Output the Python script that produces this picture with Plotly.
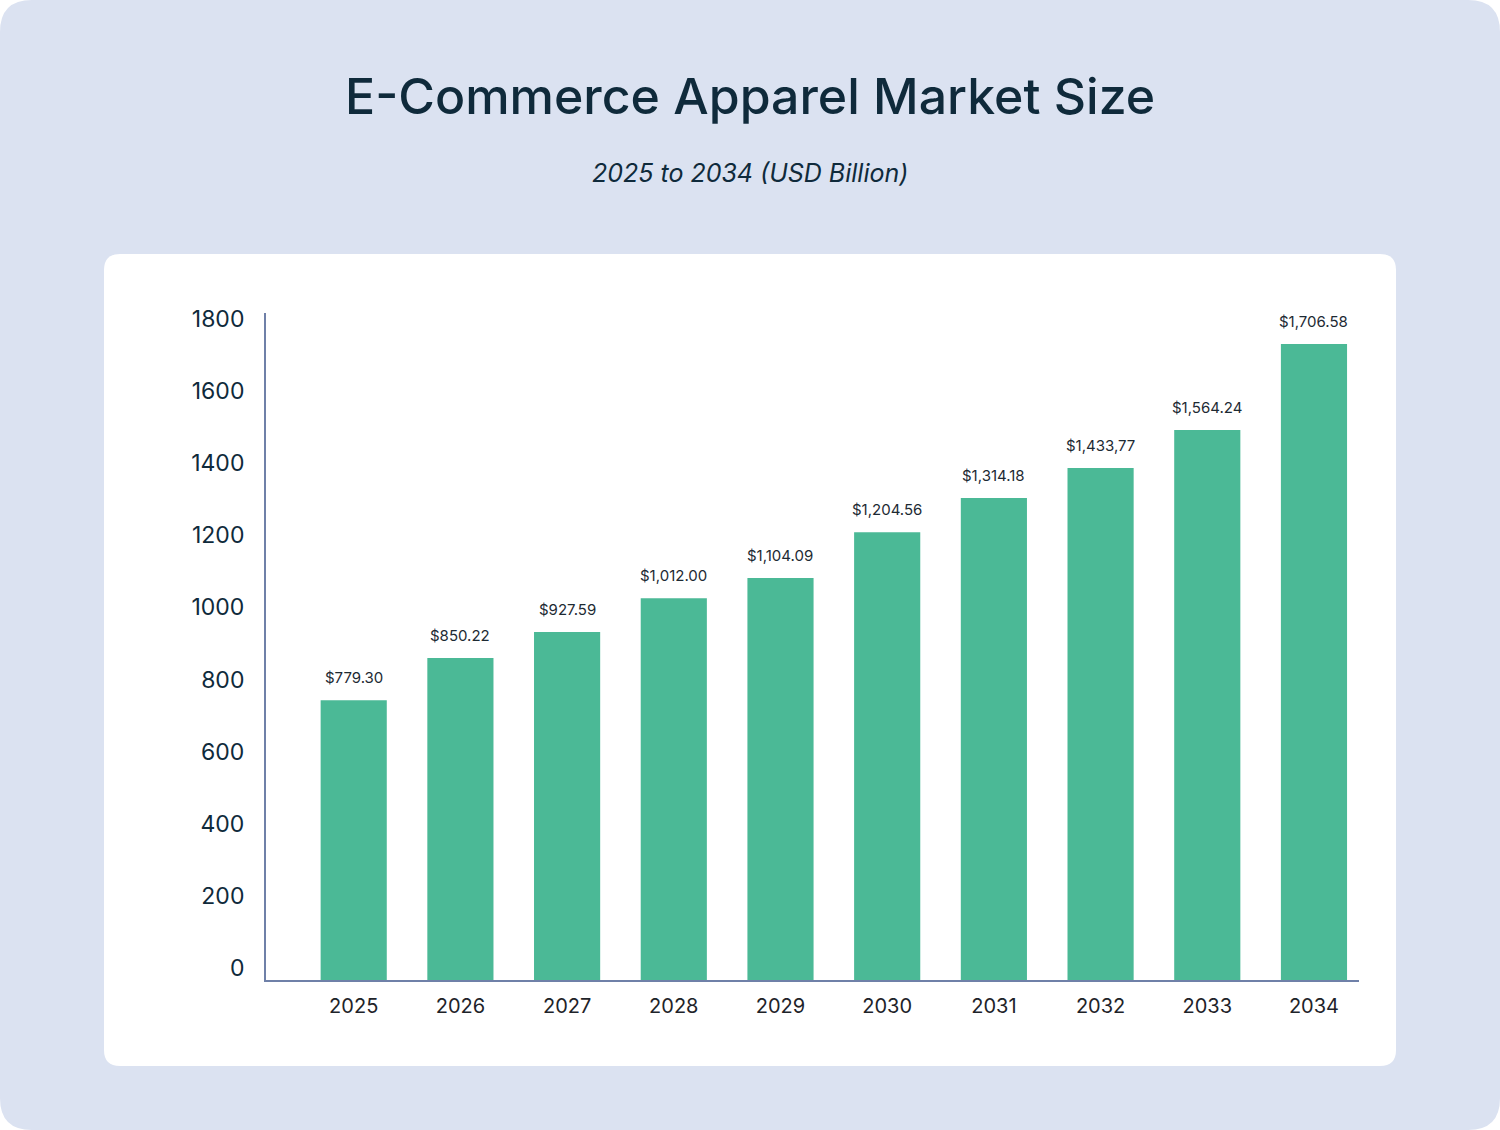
import plotly.graph_objects as go

years = ["2025", "2026", "2027", "2028", "2029", "2030", "2031", "2032", "2033", "2034"]
bar_values = [776, 893, 965, 1059, 1115, 1242, 1337, 1420, 1525, 1764]
value_labels = ["$779.30", "$850.22", "$927.59", "$1,012.00", "$1,104.09",
                "$1,204.56", "$1,314.18", "$1,433,77", "$1,564.24", "$1,706.58"]
y_ticks = [0, 200, 400, 600, 800, 1000, 1200, 1400, 1600, 1800]

W, H = 1500, 1130
L, R, T, B = 266, 141, 313, 150
PW, PH = W - L - R, H - T - B

NAVY = "#0f2a3b"
GREEN = "#4bb996"
AXIS = "#6f80a8"
OUTER = "#dbe2f1"


def px_x(p):
    return (p - L) / PW


def px_y(p):
    return 1 - (p - T) / PH


def rounded_rect(x0, y0, x1, y1, r):
    pts = [
        f"M {px_x(x0 + r)},{px_y(y0)}",
        f"L {px_x(x1 - r)},{px_y(y0)}",
        f"Q {px_x(x1)},{px_y(y0)} {px_x(x1)},{px_y(y0 + r)}",
        f"L {px_x(x1)},{px_y(y1 - r)}",
        f"Q {px_x(x1)},{px_y(y1)} {px_x(x1 - r)},{px_y(y1)}",
        f"L {px_x(x0 + r)},{px_y(y1)}",
        f"Q {px_x(x0)},{px_y(y1)} {px_x(x0)},{px_y(y1 - r)}",
        f"L {px_x(x0)},{px_y(y0 + r)}",
        f"Q {px_x(x0)},{px_y(y0)} {px_x(x0 + r)},{px_y(y0)}",
        "Z",
    ]
    return " ".join(pts)


fig = go.Figure()
fig.add_trace(go.Bar(
    x=years, y=bar_values,
    marker=dict(color=GREEN, line=dict(width=0)),
    hoverinfo="skip",
))

for i, (v, lab) in enumerate(zip(bar_values, value_labels)):
    fig.add_annotation(
        x=i, y=v, xref="x", yref="y", text=lab, showarrow=False, yanchor="bottom",
        yshift=11, font=dict(family="Inter", size=15, color="#1d2a33"),
    )

fig.add_shape(type="path", xref="paper", yref="paper", layer="below",
              path=rounded_rect(0, 0, W, H, 32), fillcolor=OUTER, line=dict(width=0))
fig.add_shape(type="path", xref="paper", yref="paper", layer="below",
              path=rounded_rect(104, 254, 1396, 1066, 16), fillcolor="white", line=dict(width=0))

fig.add_annotation(
    x=px_x(750), y=px_y(96), xref="paper", yref="paper", xanchor="center", yanchor="middle",
    text="E-Commerce Apparel Market Size", showarrow=False,
    font=dict(family="Inter", size=50, color=NAVY, weight=500),
)
fig.add_annotation(
    x=px_x(750), y=px_y(173), xref="paper", yref="paper", xanchor="center", yanchor="middle",
    text="<i>2025 to 2034 (USD Billion)</i>", showarrow=False,
    font=dict(family="Inter", size=25, color=NAVY),
)

fig.update_layout(
    width=W, height=H,
    margin=dict(l=L, r=R, t=T, b=B, pad=0),
    paper_bgcolor="white",
    plot_bgcolor="rgba(0,0,0,0)",
    showlegend=False,
    bargap=0.38,
    xaxis=dict(
        type="category", range=[-0.822, 9.422],
        showline=True, linecolor=AXIS, linewidth=2,
        showgrid=False, zeroline=False, ticks="",
        tickfont=dict(family="Inter", size=20, color="#1e2329"),
        ticklabelstandoff=7,
    ),
    yaxis=dict(
        range=[0, 1849.7],
        tickvals=y_ticks, ticktext=[str(v) for v in y_ticks],
        showline=True, linecolor=AXIS, linewidth=2,
        showgrid=False, zeroline=False, ticks="",
        tickfont=dict(family="Inter", size=23, color=NAVY),
        ticklabelstandoff=15, ticklabelshift=-12,
    ),
)

fig.write_html("out.html", config={"displayModeBar": False},
               post_script="document.body.style.margin='0';")
